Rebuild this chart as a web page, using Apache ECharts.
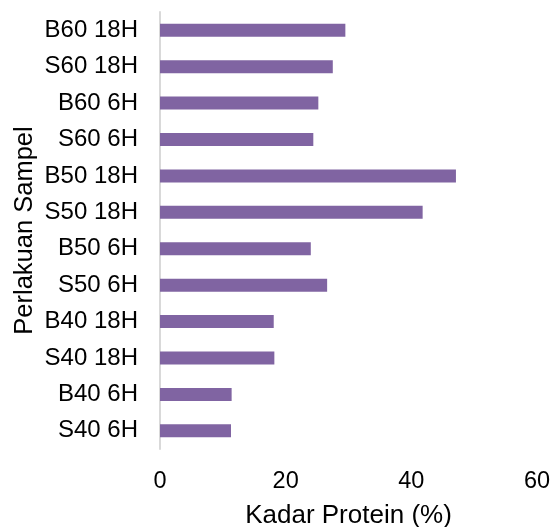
<!DOCTYPE html>
<html>
<head>
<meta charset="utf-8">
<script src="https://cdn.jsdelivr.net/npm/echarts@6/dist/echarts.min.js"></script>
<style>
html,body{margin:0;padding:0;background:#fff;}
#c{width:558px;height:527px;}
</style>
</head>
<body>
<div id="c"></div>
<script>
const categories = ["B60 18H","S60 18H","B60 6H","S60 6H","B50 18H","S50 18H","B50 6H","S50 6H","B40 18H","S40 18H","B40 6H","S40 6H"];
const proteinValues = [29.5, 27.5, 25.2, 24.4, 47.1, 41.8, 24.0, 26.6, 18.1, 18.2, 11.4, 11.3];
const xTicks = [0, 20, 40, 60];

const chart = echarts.init(document.getElementById('c'), null, {renderer: 'canvas'});
const font = "'Liberation Sans', Arial, sans-serif";
chart.setOption({
  animation: false,
  backgroundColor: '#ffffff',
  grid: {left: 160, right: 21, top: 12, bottom: 78, containLabel: false, outerBoundsMode: 'none'},
  xAxis: {
    type: 'value',
    min: xTicks[0],
    max: xTicks[xTicks.length - 1],
    interval: 20,
    name: 'Kadar Protein (%)',
    nameLocation: 'middle',
    nameGap: 54,
    nameMoveOverlap: false,
    nameTextStyle: {fontFamily: font, fontSize: 26, color: '#000'},
    axisLine: {show: false},
    axisTick: {show: false},
    splitLine: {show: false},
    axisLabel: {fontFamily: font, fontSize: 23.5, color: '#000', margin: 21}
  },
  yAxis: {
    type: 'category',
    data: categories,
    inverse: true,
    name: 'Perlakuan Sampel',
    nameLocation: 'middle',
    nameGap: 122,
    nameMoveOverlap: false,
    nameTextStyle: {fontFamily: font, fontSize: 25.5, color: '#000'},
    axisLine: {show: true, lineStyle: {color: '#d9d9d9', width: 2}},
    axisTick: {show: false},
    axisLabel: {fontFamily: font, fontSize: 24, color: '#000', margin: 22}
  },
  series: [{
    type: 'bar',
    data: proteinValues,
    barWidth: 13,
    itemStyle: {color: '#8064A2'}
  }]
});
</script>
</body>
</html>
